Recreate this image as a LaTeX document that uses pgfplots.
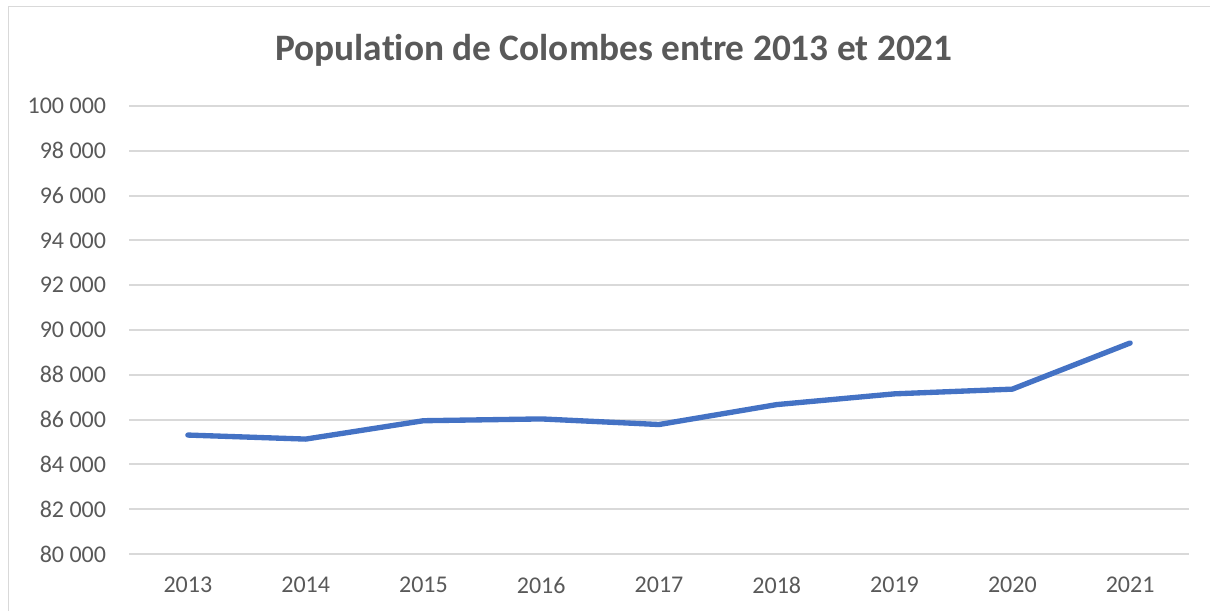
\documentclass[border=0pt]{standalone}
\usepackage{pgfplots}
\pgfplotsset{compat=1.18}
\usepackage{fontspec}
\setmainfont[Ligatures={NoCommon,NoRare}]{Carlito}
\definecolor{txt}{HTML}{595959}
\definecolor{grd}{HTML}{D9D9D9}
\definecolor{ln}{HTML}{4472C4}
\begin{document}
\begin{tikzpicture}
\useasboundingbox (0,0) rectangle (907.5pt,458.25pt);
\draw[grd, line width=0.75pt] (6pt,0) -- (6pt,453pt) -- (907.5pt,453pt);
\node[txt, font=\fontsize{28pt}{33pt}\selectfont\bfseries] at (460.5pt,420.75pt) {Population de Colombes entre 2013 et 2021};
\begin{axis}[
  at={(96.75pt,42.75pt)}, anchor=south west,
  scale only axis, width=795pt, height=336pt,
  xmin=-0.5, xmax=8.5, ymin=80000, ymax=100000,
  axis line style={draw=none},
  scaled ticks=false,
  xtick={0,...,8},
  xticklabels={2013,2014,2015,2016,2017,2018,2019,2020,2021},
  ytick={80000,82000,...,100000},
  yticklabels={80 000,82 000,84 000,86 000,88 000,90 000,92 000,94 000,96 000,98 000,100 000},
  major tick length=0pt,
  ymajorgrids,
  grid style={grd, line width=1.5pt},
  tick label style={font=\fontsize{18pt}{21pt}\selectfont, text=txt},
  xticklabel style={anchor=north, inner sep=0pt, yshift=-17pt},
  yticklabel style={anchor=east, inner sep=0pt, xshift=-17pt},
  clip=false,
]
\addplot[ln, line width=4pt, line cap=round, line join=round] coordinates {
(0,85310) (1,85130) (2,85950) (3,86030) (4,85780) (5,86670) (6,87150) (7,87360) (8,89420)
};
\end{axis}
\end{tikzpicture}
\end{document}
